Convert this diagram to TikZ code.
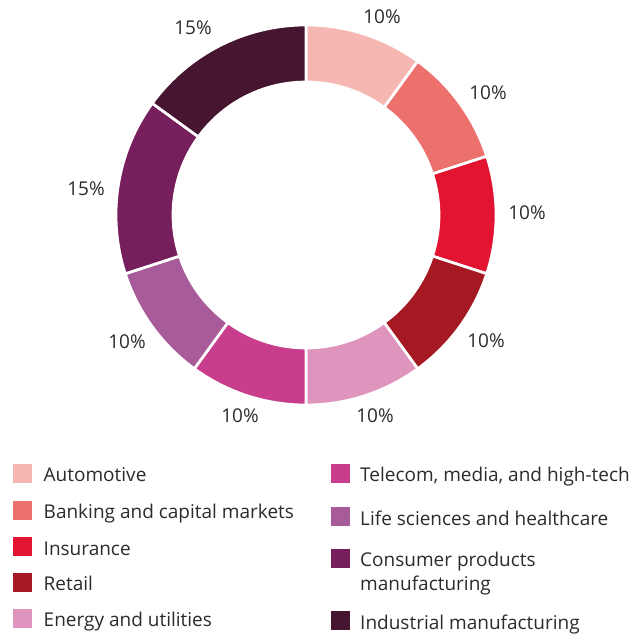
\documentclass[tikz,border=0pt]{standalone}
\usepackage{fontspec}
\setmainfont{Open Sans}
\newfontfamily\legfont{Open Sans}
\definecolor{cAuto}{HTML}{F6B6B1}
\definecolor{cBank}{HTML}{EC716D}
\definecolor{cIns}{HTML}{E31432}
\definecolor{cRet}{HTML}{A51A22}
\definecolor{cEne}{HTML}{DF94BE}
\definecolor{cTel}{HTML}{C93D8D}
\definecolor{cLife}{HTML}{A85B99}
\definecolor{cCons}{HTML}{771E5C}
\definecolor{cInd}{HTML}{461630}
\definecolor{txt}{HTML}{2B2B2B}
\tikzset{
  slice/.style={draw=white, line width=2.7pt, line join=miter},
  pct/.style={font=\fontsize{19}{22}\selectfont, text=txt, inner sep=0pt},
  swatch/.style={minimum size=19pt, inner sep=0pt, draw=none},
  legtext/.style={font=\legfont\fontsize{19}{23.4}\selectfont, text=txt, inner sep=0pt, anchor=base west, align=left},
}
\begin{document}
\begin{tikzpicture}[x=1pt,y=1pt]
\useasboundingbox (0,0) rectangle (639,633);
\coordinate (c) at (306,418);
\def\Ro{190}
\def\Ri{133}
\foreach \a/\b/\col in {90/54/cAuto, 54/18/cBank, 18/-18/cIns, -18/-54/cRet, -54/-90/cEne, -90/-126/cTel, -126/-162/cLife, -162/-216/cCons, -216/-270/cInd}{
  \filldraw[slice, fill=\col] ([shift={(\a:\Ro)}]c) arc[start angle=\a, end angle=\b, radius=\Ro] -- ([shift={(\b:\Ri)}]c) arc[start angle=\b, end angle=\a, radius=\Ri] -- cycle;
}
% percentage labels
\node[pct] (pAuto) at (382,616) {10\%};
\node[pct] (pBank) at (488,540) {10\%};
\node[pct] (pIns) at (527,420) {10\%};
\node[pct] (pRet) at (486,292) {10\%};
\node[pct] (pEne) at (375,217) {10\%};
\node[pct] (pTel) at (240,217) {10\%};
\node[pct] (pLife) at (127,291) {10\%};
\node[pct] (pCons) at (86,444) {15\%};
\node[pct] (pInd) at (193,605) {15\%};
% legend
\node[swatch, fill=cAuto] (sAuto) at (22.5,159.7) {};
\node[swatch, fill=cBank] (sBank) at (22.5,122.7) {};
\node[swatch, fill=cIns] (sIns) at (22.5,86.3) {};
\node[swatch, fill=cRet] (sRet) at (22.5,50.7) {};
\node[swatch, fill=cEne] (sEne) at (22.5,14.7) {};
\node[legtext] (tAuto) at (43.5,151.3) {Automotive};
\node[legtext] (tBank) at (43.5,114.3) {Banking and capital markets};
\node[legtext] (tIns) at (43.5,77.9) {Insurance};
\node[legtext] (tRet) at (43.5,42.3) {Retail};
\node[legtext] (tEne) at (43.5,6.3) {Energy and utilities};
\node[swatch, fill=cTel] (sTel) at (340.5,159.7) {};
\node[swatch, fill=cLife] (sLife) at (340.5,116.3) {};
\node[swatch, fill=cCons] (sCons) at (340.5,74.7) {};
\node[swatch, fill=cInd] (sInd) at (340.5,12.3) {};
\node[legtext] (tTel) at (360,151.3) {Telecom, media, and high-tech};
\node[legtext] (tLife) at (360,107.9) {Life sciences and healthcare};
\node[legtext] (tCons) at (360,42.9) {Consumer products\\manufacturing};
\node[legtext] (tInd) at (360,3.9) {Industrial manufacturing};
\end{tikzpicture}
\end{document}
